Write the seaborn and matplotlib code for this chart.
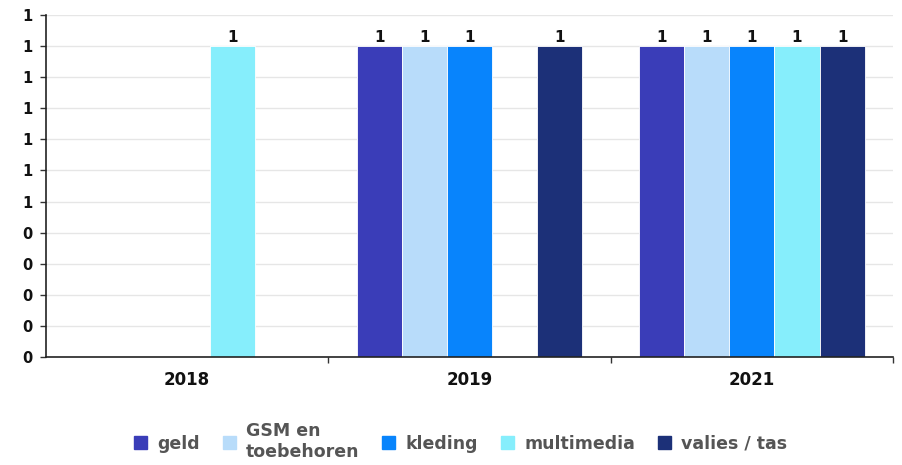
import matplotlib
matplotlib.use("Agg")
import matplotlib.pyplot as plt
import seaborn as sns
import pandas as pd
from matplotlib.ticker import FixedLocator

# data
years = ["2018", "2019", "2019", "2019", "2019", "2021", "2021", "2021", "2021", "2021"]
categories = ["multimedia",
              "geld", "GSM en\ntoebehoren", "kleding", "valies / tas",
              "geld", "GSM en\ntoebehoren", "kleding", "multimedia", "valies / tas"]
counts = [1, 1, 1, 1, 1, 1, 1, 1, 1, 1]
hue_order = ["geld", "GSM en\ntoebehoren", "kleding", "multimedia", "valies / tas"]
year_order = ["2018", "2019", "2021"]
colors = ["#3a3db8", "#b8dcfa", "#0884fc", "#86eefc", "#1c3078"]
ytick_values = [0, 0.1, 0.2, 0.3, 0.4, 0.5, 0.6, 0.7, 0.8, 0.9, 1.0, 1.1]
ytick_labels = ["0", "0", "0", "0", "0", "1", "1", "1", "1", "1", "1", "1"]

df = pd.DataFrame({"year": years, "category": categories, "count": counts})

sns.set_theme(style="white")
plt.rcParams["font.family"] = ["DejaVu Sans"]

fig = plt.figure(figsize=(9.03, 4.65), dpi=100)
ax = fig.add_axes([46 / 903, 108 / 465, 847 / 903, 342 / 465])

sns.barplot(data=df, x="year", y="count", hue="category", order=year_order,
            hue_order=hue_order, palette=colors, width=0.8, saturation=1,
            edgecolor="white", linewidth=0.6, ax=ax)

for cont in ax.containers:
    ax.bar_label(cont, labels=["1"] * len(cont), padding=1,
                 fontsize=11, fontweight="bold", color="#111111")

ax.set_ylim(0, 1.1)
ax.set_xlim(-0.5, 2.5)
ax.set_yticks(ytick_values)
ax.set_yticklabels(ytick_labels, fontsize=10.5, fontweight="bold", color="#111111")
ax.yaxis.grid(True, color="#e6e6e6", linewidth=1)
ax.set_axisbelow(True)
ax.tick_params(axis="y", left=True, length=4, width=1, color="#333333", pad=6)
ax.tick_params(axis="x", bottom=False, labelsize=12, pad=4)
for lbl in ax.get_xticklabels():
    lbl.set_fontweight("bold")
    lbl.set_color("#111111")
ax.xaxis.set_minor_locator(FixedLocator([0.5, 1.5, 2.5]))
ax.tick_params(axis="x", which="minor", bottom=True, length=4, width=1, color="#333333")
ax.set_xlabel("")
ax.set_ylabel("")

for side in ["top", "right"]:
    ax.spines[side].set_visible(False)
for side in ["left", "bottom"]:
    ax.spines[side].set_color("#222222")
    ax.spines[side].set_linewidth(1.2)

ax.legend_.remove()
handles = [plt.Rectangle((0, 0), 1, 1, color=c) for c in colors]
leg = fig.legend(handles, hue_order, loc="center", bbox_to_anchor=(0.51, 0.05),
                 ncol=5, frameon=False, handlelength=0.75, handleheight=0.75,
                 handletextpad=0.6, columnspacing=1.3,
                 prop={"weight": "bold", "size": 12.5})
for t in leg.get_texts():
    t.set_color("#555555")

fig.savefig("out.png", dpi=100)
